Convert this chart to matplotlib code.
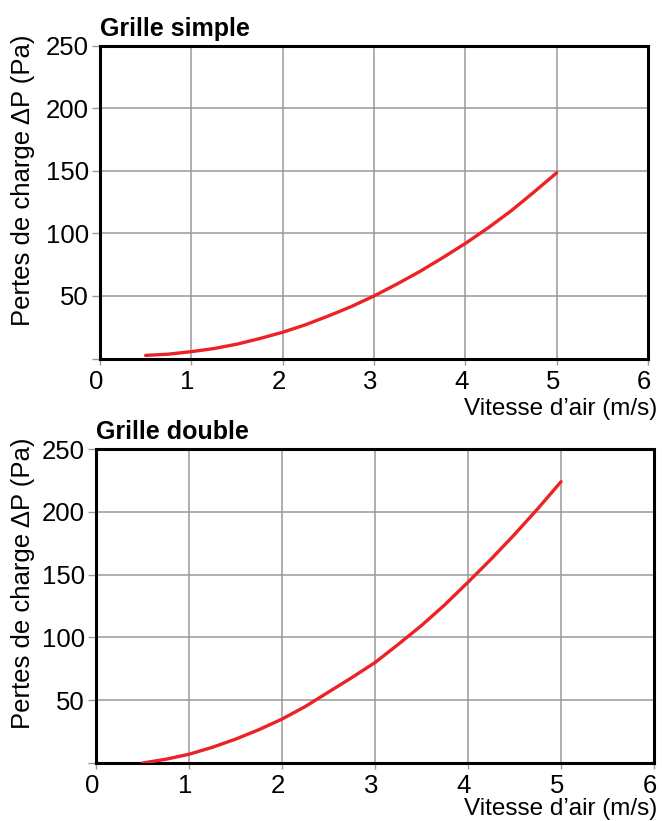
import numpy as np
import matplotlib
matplotlib.use("Agg")
import matplotlib.pyplot as plt
import matplotlib.transforms as mtransforms

plt.rcParams['font.family'] = ['Liberation Sans', 'DejaVu Sans']

# Vitesse d'air (m/s)
vitesse = [0.5, 0.75, 1.0, 1.25, 1.5, 1.75, 2.0, 2.25, 2.5, 2.75,
           3.0, 3.25, 3.5, 3.75, 4.0, 4.25, 4.5, 4.75, 5.0]
# Pertes de charge (Pa)
dp_simple = [2.5, 3.5, 5.5, 8, 11.5, 16, 21, 27, 34, 41.5,
             50, 59.5, 69.5, 80.5, 92, 104.5, 118, 133, 148.5]
dp_double = [0, 3, 7, 12.5, 19, 26.5, 35, 45, 56.5, 68,
             80, 94.5, 109.5, 126, 144, 162.5, 182, 202.5, 224]

titres = ["Grille simple", "Grille double"]
xticks = [0, 1, 2, 3, 4, 5, 6]
yticks = [0, 50, 100, 150, 200, 250]
ytick_labels = ["", "50", "100", "150", "200", "250"]

rouge = "#ec2227"
gris = "#999999"

fig = plt.figure(figsize=(6.62, 8.21), dpi=100)
positions = [[0.151, 0.5633, 0.828, 0.381], [0.145, 0.0706, 0.843, 0.3825]]
series = [dp_simple, dp_double]
ylab_coords = [(-0.119, 0.57), (-0.109, 0.573)]
xlab_coords = [(1.016, -0.125), (1.005, -0.112)]

for i in range(2):
    ax = fig.add_axes(positions[i])
    ax.plot(vitesse, series[i], color=rouge, linewidth=2.4, solid_capstyle='round', zorder=3)
    ax.set_xlim(0, 6)
    ax.set_ylim(0, 250)
    ax.set_xticks(xticks)
    ax.set_yticks(yticks)
    ax.set_yticklabels(ytick_labels)
    ax.grid(True, color=gris, linewidth=1.1)
    ax.set_axisbelow(True)
    for s in ax.spines.values():
        s.set_linewidth(2.2)
        s.set_color("black")
    ax.tick_params(axis='y', length=6, width=1, color=gris, pad=2, labelsize=18.5)
    ax.tick_params(axis='x', length=4, width=1, color=gris, pad=4, labelsize=18.5)
    decal = mtransforms.ScaledTranslation(-4 / 100, 0, fig.dpi_scale_trans)
    for lbl in ax.get_xticklabels():
        lbl.set_transform(lbl.get_transform() + decal)
    ax.set_title(titres[i], loc='left', fontweight='bold', fontsize=18, pad=7)
    ax.set_ylabel("Pertes de charge ΔP (Pa)", fontsize=18.5)
    ax.yaxis.set_label_coords(*ylab_coords[i])
    ax.set_xlabel("Vitesse d’air (m/s)", fontsize=17.5, ha='right')
    ax.xaxis.set_label_coords(*xlab_coords[i])

plt.savefig("out.png", dpi=100)
